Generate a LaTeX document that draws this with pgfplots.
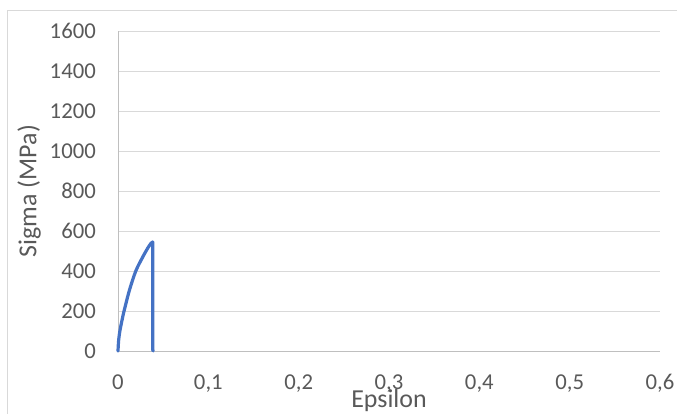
\documentclass[border=0pt]{standalone}
\usepackage{pgfplots}
\pgfplotsset{compat=1.18}
\usepackage{fontspec}
\setmainfont{Carlito}
\definecolor{txt}{HTML}{595959}
\definecolor{grid}{HTML}{D9D9D9}
\definecolor{axl}{HTML}{BFBFBF}
\definecolor{ser}{HTML}{4472C4}
\begin{document}
\begin{tikzpicture}
\path[use as bounding box] (0,0) rectangle (677bp,414bp);
\draw[grid, line width=0.8bp] (7bp,-2bp) -- (7bp,404bp) -- (680bp,404bp);
\begin{axis}[
  at={(118bp,63bp)}, anchor=south west,
  scale only axis, width=542bp, height=320bp,
  xmin=0, xmax=0.6, ymin=0, ymax=1600,
  xtick={0,0.1,0.2,0.3,0.4,0.5,0.6},
  ytick={0,200,400,600,800,1000,1200,1400,1600},
  scaled ticks=false,
  /pgf/number format/assume math mode=true,
  /pgf/number format/use comma,
  /pgf/number format/1000 sep={},
  major tick length=0pt,
  axis x line*=bottom, axis y line*=left,
  axis line style={draw=axl, line width=0.9bp, -},
  ymajorgrids, grid style={draw=grid, line width=0.8bp},
  tick label style={font=\fontsize{22.8}{26}\selectfont, text=txt, inner sep=0pt},
  xticklabel style={anchor=base, yshift=-38bp},
  yticklabel style={anchor=base east, xshift=-22bp, yshift=-7.2bp},
  xlabel={Epsilon}, ylabel={Sigma (MPa)},
  label style={font=\fontsize{26}{30}\selectfont, text=txt, inner sep=0pt},
  xlabel style={at={(axis description cs:0.5,-0.178)}, anchor=base},
  ylabel style={at={(axis description cs:-0.164,0.5)}, anchor=center, rotate=0},
  clip=false,
]
\addplot[ser, line width=3.2bp, line join=round, line cap=round, mark=none, smooth, tension=0.5] coordinates {
(0,0) (0.0007,53) (0.0022,103) (0.0045,155) (0.0067,200) (0.0126,303)
(0.0197,400) (0.0274,470) (0.0330,515) (0.0363,537) (0.0385,545)
};
\addplot[ser, line width=3.2bp, line join=round, line cap=round, mark=none] coordinates {
(0.0385,545) (0.0385,5) (0.0390,0)
};
\end{axis}
\end{tikzpicture}
\end{document}
